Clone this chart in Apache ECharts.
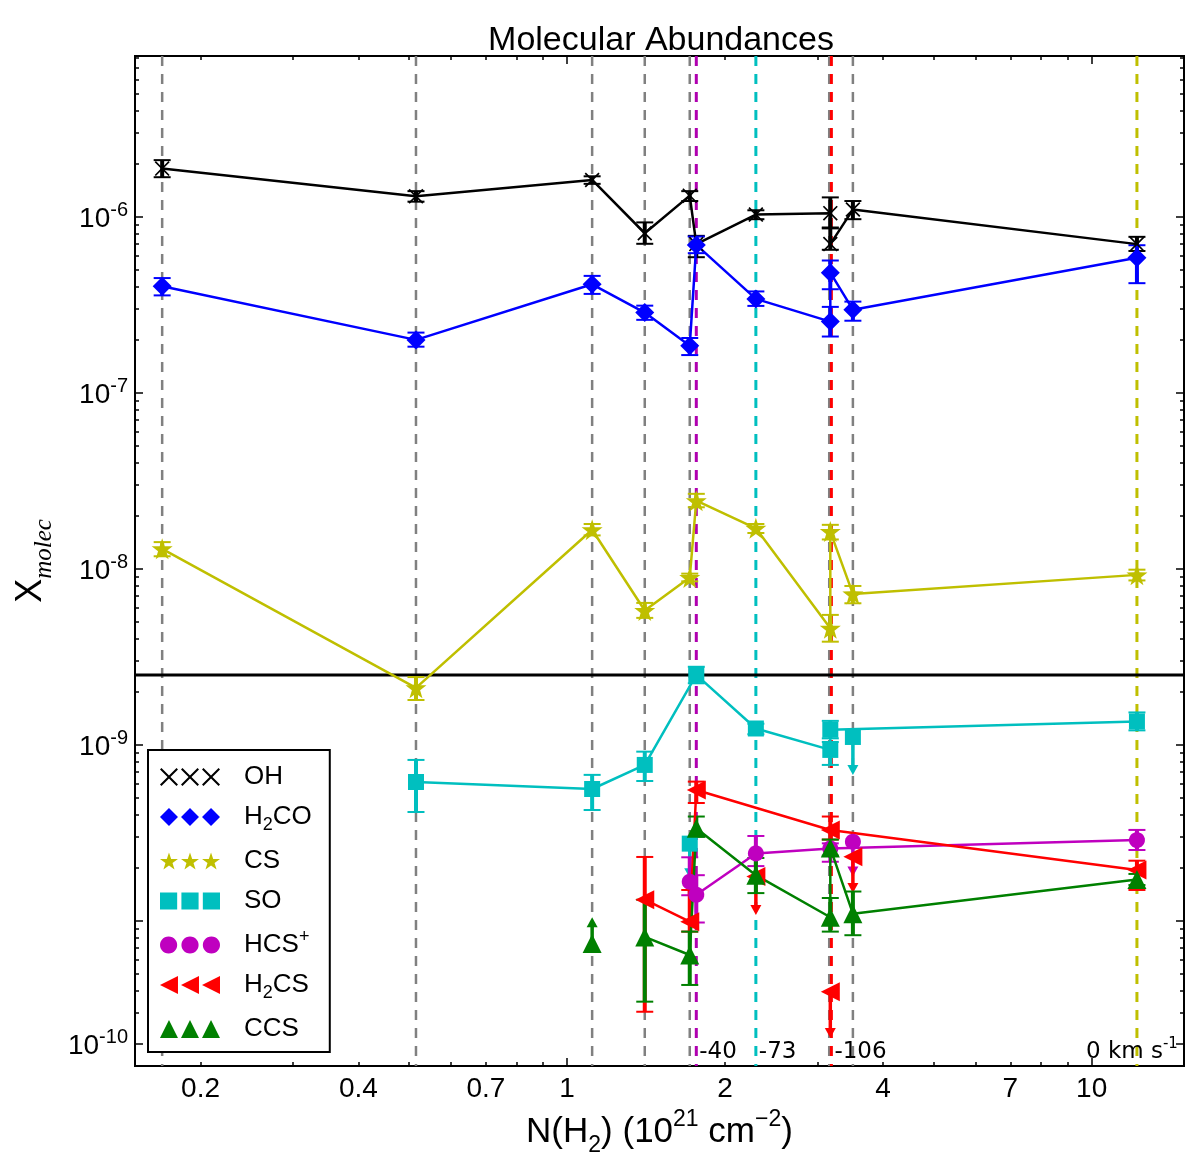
<!DOCTYPE html>
<html><head><meta charset="utf-8">
<script src="https://cdn.jsdelivr.net/npm/echarts@6/dist/echarts.min.js"></script>
<style>html,body{margin:0;padding:0;background:#fff}#c{width:1200px;height:1163px}</style>
</head><body><div id="c"></div><script>
// ---------- axes / ticks ----------
const X_MIN = 0.15, X_MAX = 15;
const Y_MIN = 1.5e-11, Y_MAX = 8.2e-6;
const xLabelVals = [0.2, 0.4, 0.7, 1, 2, 4, 7, 10];
const xLabelTexts = ['0.2', '0.4', '0.7', '1', '2', '4', '7', '10'];
const xMajorTicks = [1, 10];
const xMinorTicks = [0.2, 0.3, 0.4, 0.5, 0.6, 0.7, 0.8, 0.9, 2, 3, 4, 5, 6, 7, 8, 9];
const yLabelVals = [1e-6, 1e-7, 1e-8, 1e-9, 2e-11];
const yLabelExps = ['-6', '-7', '-8', '-9', '-10'];
const yMajorTicks = [1e-6, 1e-7, 1e-8, 1e-9, 1e-10, 2e-11];
const yMinorMantissa = [2, 3, 4, 5, 6, 7, 8, 9];
const yMinorDecades = [1e-11, 1e-10, 1e-9, 1e-8, 1e-7, 1e-6];
const thresholdY = 2.5e-9;

// ---------- data: [N(H2), X, errLow, errHigh] ----------
const OH = [
  [0.169, 1.88e-6, 1.68e-6, 2.10e-6], [0.515, 1.31e-6, 1.22e-6, 1.40e-6],
  [1.116, 1.62e-6, 1.54e-6, 1.70e-6], [1.406, 8.07e-7, 7.03e-7, 9.30e-7],
  [1.713, 1.32e-6, 1.23e-6, 1.40e-6], [1.763, 7.00e-7, 5.90e-7, 7.80e-7],
  [2.29, 1.03e-6, 0.97e-6, 1.09e-6], [3.175, 1.05e-6, 8.60e-7, 1.29e-6],
  [3.175, 7.00e-7, 6.50e-7, 8.70e-7], [3.506, 1.10e-6, 9.70e-7, 1.23e-6],
  [12.2, 7.00e-7, 6.40e-7, 7.70e-7]
];
const H2CO = [
  [0.169, 4.03e-7, 3.58e-7, 4.49e-7], [0.515, 2.00e-7, 1.83e-7, 2.20e-7],
  [1.116, 4.14e-7, 3.65e-7, 4.62e-7], [1.406, 2.86e-7, 2.60e-7, 3.13e-7],
  [1.713, 1.85e-7, 1.64e-7, 2.05e-7], [1.763, 6.93e-7, 6.22e-7, 7.73e-7],
  [2.29, 3.42e-7, 3.12e-7, 3.77e-7], [3.175, 2.54e-7, 2.09e-7, 3.08e-7],
  [3.175, 4.82e-7, 3.88e-7, 5.65e-7], [3.506, 2.97e-7, 2.57e-7, 3.30e-7],
  [12.2, 5.85e-7, 4.20e-7, 6.90e-7]
];
const CS = [
  [0.169, 1.30e-8, 1.18e-8, 1.42e-8], [0.515, 2.11e-9, 1.80e-9, 2.43e-9],
  [1.116, 1.67e-8, 1.55e-8, 1.80e-8], [1.406, 5.80e-9, 5.27e-9, 6.41e-9],
  [1.713, 8.93e-9, 8.50e-9, 9.40e-9], [1.763, 2.44e-8, 2.24e-8, 2.67e-8],
  [2.29, 1.70e-8, 1.60e-8, 1.80e-8], [3.175, 4.60e-9, 3.86e-9, 5.48e-9],
  [3.175, 1.63e-8, 1.47e-8, 1.78e-8], [3.506, 7.21e-9, 6.38e-9, 8.00e-9],
  [12.2, 9.25e-9, 8.60e-9, 9.90e-9]
];
const SO = [
  [0.515, 6.16e-10, 4.16e-10, 8.22e-10], [1.116, 5.62e-10, 4.27e-10, 6.76e-10],
  [1.406, 7.70e-10, 6.24e-10, 9.16e-10], [1.763, 2.50e-9, 2.24e-9, 2.78e-9],
  [2.29, 1.24e-9, 1.15e-9, 1.32e-9], [3.175, 9.37e-10, 7.70e-10, 1.04e-9],
  [3.175, 1.22e-9, 1.09e-9, 1.37e-9], [12.2, 1.36e-9, 1.21e-9, 1.53e-9]
];
const HCSp = [
  [1.713, 1.67e-10, 1.40e-10, 2.30e-10], [1.763, 1.41e-10, 9.80e-11, 1.82e-10],
  [2.29, 2.42e-10, 2.05e-10, 3.04e-10], [3.175, 2.58e-10, 2.17e-10, 2.76e-10],
  [12.2, 2.88e-10, 2.53e-10, 3.29e-10]
];
const H2CS = [
  [1.406, 1.32e-10, 3.05e-11, 2.31e-10], [1.713, 9.90e-11, 8.70e-11, 1.50e-10],
  [1.763, 5.55e-10, 4.68e-10, 6.19e-10], [3.175, 3.29e-10, 2.90e-10, 3.92e-10],
  [12.2, 1.95e-10, 1.50e-10, 2.20e-10]
];
const CCS = [
  [1.406, 8.12e-11, 3.48e-11, 1.32e-10], [1.713, 6.41e-11, 4.33e-11, 8.70e-11],
  [1.763, 3.36e-10, 3.01e-10, 3.92e-10], [2.29, 1.82e-10, 1.44e-10, 2.28e-10],
  [3.175, 1.05e-10, 8.70e-11, 1.35e-10], [3.175, 2.60e-10, 2.35e-10, 2.90e-10],
  [3.506, 1.10e-10, 8.30e-11, 1.47e-10], [12.2, 1.72e-10, 1.60e-10, 1.85e-10]
];
// limits: [N(H2), X, arrow end]
const OH_lim = [], H2CO_lim = [], CS_lim = [];
const SO_lim = [[1.713, 2.75e-10, 1.75e-10], [3.506, 1.11e-9, 6.76e-10]];
const HCSp_lim = [[3.506, 2.82e-10, 1.79e-10]];
const H2CS_lim = [[2.29, 1.79e-10, 1.08e-10], [3.175, 3.96e-11, 2.16e-11], [3.506, 2.32e-10, 1.44e-10]];
const CCS_lim = [[1.116, 7.44e-11, 1.05e-10]];

// velocity-component marker lines
const grayLinesX = [0.169, 0.515, 1.116, 1.406, 1.713, 3.16, 3.506];
const velLinesX = [1.763, 2.29, 3.19, 12.2];
const velLabels = ['-40', '-73', '-106', '0 km s'];
const velLabelSup = ['', '', '', '-1'];
// styles (kept separate)
const velColors = ['#b000b0', '#00bfbf', '#ff0000', '#bfbf00'];
const velAlign = ['left', 'left', 'left', 'center'];

// ---------- marker shapes ----------
function starPts() {
  const p = [];
  for (let k = 0; k < 10; k++) {
    const a = (-90 + k * 36) * Math.PI / 180, r = k % 2 ? 3.3 : 8.4;
    p.push([8 + r * Math.cos(a), 8.8 + r * Math.sin(a)]);
  }
  return p;
}
function circlePts() {
  const p = [];
  for (let k = 0; k < 28; k++) { const a = k / 28 * 2 * Math.PI; p.push([8 + 7.5 * Math.cos(a), 8 + 7.5 * Math.sin(a)]); }
  return p;
}
const shapes = {
  x: [[0, 1.3], [1.3, 0], [8, 6.7], [14.7, 0], [16, 1.3], [9.3, 8], [16, 14.7], [14.7, 16], [8, 9.3], [1.3, 16], [0, 14.7], [6.7, 8]],
  diamond: [[8, 0], [16, 8], [8, 16], [0, 8]],
  star: starPts(),
  square: [[0.5, 0.5], [15.5, 0.5], [15.5, 15.5], [0.5, 15.5]],
  circle: circlePts(),
  tleft: [[0, 8], [16, 0], [16, 16]],
  tup: [[8, 0], [16, 16], [0, 16]]
};
function poly(pts, dx) {
  return 'M' + pts.map(p => (p[0] + dx).toFixed(2) + ',' + p[1].toFixed(2)).join(' L') + ' Z';
}
const symPath = s => 'path://' + poly(shapes[s], 0);
const legendPath = s => 'path://' + [0, 18.7, 37.4].map(d => poly(shapes[s], d)).join(' ');

// ---------- species definitions ----------
const species = [
  { name: 'OH', data: OH, lim: OH_lim, color: '#000000', shape: 'x', size: 15, label: '{t|OH}' },
  { name: 'H2CO', data: H2CO, lim: H2CO_lim, color: '#0000ff', shape: 'diamond', size: 19, label: '{t|H}{sub|2}{t|CO}' },
  { name: 'CS', data: CS, lim: CS_lim, color: '#bfbf00', shape: 'star', size: 21, label: '{t|CS}' },
  { name: 'SO', data: SO, lim: SO_lim, color: '#00bfbf', shape: 'square', size: 16, label: '{t|SO}' },
  { name: 'HCS+', data: HCSp, lim: HCSp_lim, color: '#bf00bf', shape: 'circle', size: 16, label: '{t|HCS}{sup|+}' },
  { name: 'H2CS', data: H2CS, lim: H2CS_lim, color: '#ff0000', shape: 'tleft', size: 19, label: '{t|H}{sub|2}{t|CS}' },
  { name: 'CCS', data: CCS, lim: CCS_lim, color: '#008000', shape: 'tup', size: 19, label: '{t|CCS}' }
];

function errRender(color) {
  return function (params, api) {
    const x = api.value(0);
    const a = api.coord([x, api.value(2)]), b = api.coord([x, api.value(3)]);
    const cw = 8.5;
    return { type: 'group', children: [
      { type: 'line', shape: { x1: a[0], y1: a[1], x2: b[0], y2: b[1] }, style: { stroke: color, lineWidth: 4 } },
      { type: 'line', shape: { x1: a[0] - cw, y1: a[1], x2: a[0] + cw, y2: a[1] }, style: { stroke: color, lineWidth: 2 } },
      { type: 'line', shape: { x1: b[0] - cw, y1: b[1], x2: b[0] + cw, y2: b[1] }, style: { stroke: color, lineWidth: 2 } }
    ] };
  };
}
function limRender(color) {
  return function (params, api) {
    const x = api.value(0);
    const a = api.coord([x, api.value(1)]), b = api.coord([x, api.value(2)]);
    const dir = b[1] > a[1] ? 1 : -1, h = 10, w = 5.5;
    return { type: 'group', children: [
      { type: 'line', shape: { x1: a[0], y1: a[1], x2: b[0], y2: b[1] - dir * h * 0.6 }, style: { stroke: color, lineWidth: 3.5 } },
      { type: 'polygon', shape: { points: [[b[0], b[1]], [b[0] - w, b[1] - dir * h], [b[0] + w, b[1] - dir * h]] }, style: { fill: color } }
    ] };
  };
}

const series = [];
// vertical dashed lines
const vlineItems = grayLinesX.map(x => [x, Y_MIN, Y_MAX, -1]).concat(velLinesX.map((x, i) => [x, Y_MIN, Y_MAX, i]));
series.push({
  type: 'custom', name: 'vlines', z: 1, silent: true, data: vlineItems,
  renderItem: function (params, api) {
    const x = api.value(0), idx = api.value(3);
    const top = api.coord([x, api.value(2)]), bot = api.coord([x, api.value(1)]);
    const color = idx < 0 ? '#808080' : velColors[idx];
    const children = [{ type: 'line', shape: { x1: top[0], y1: top[1], x2: bot[0], y2: bot[1] },
      style: { stroke: color, lineWidth: idx < 0 ? 2.5 : 3, lineDash: [10, 8] } }];
    if (idx >= 0) {
      const al = velAlign[idx];
      children.push({ type: 'text', x: bot[0] + (al === 'left' ? 3 : -5), y: bot[1] - 16, z2: 10,
        style: { text: '{a|' + velLabels[idx] + '}' + (velLabelSup[idx] ? '{b|' + velLabelSup[idx] + '}' : ''),
          rich: { a: { fontSize: 23, fontFamily: 'DejaVu Sans', fill: '#000', padding: [4, 0, 0, 0] },
                  b: { fontSize: 15, fontFamily: 'DejaVu Sans', fill: '#000', verticalAlign: 'top' } },
          align: al, verticalAlign: 'middle', fill: '#000' } });
    }
    return { type: 'group', children };
  }
});
// horizontal separator line
series.push({
  type: 'line', name: 'threshold', data: [[X_MIN, thresholdY], [X_MAX, thresholdY]], symbol: 'none', silent: true,
  lineStyle: { color: '#000', width: 3 }, z: 2, emphasis: { disabled: true }
});

species.forEach(sp => {
  series.push({
    type: 'line', name: sp.name, data: sp.data.map(p => [p[0], p[1]]),
    symbol: symPath(sp.shape), symbolSize: sp.size, showSymbol: true,
    itemStyle: { color: sp.color, borderWidth: 0, opacity: 1 }, lineStyle: { color: sp.color, width: 2.5 },
    emphasis: { disabled: true }, z: 3
  });
  series.push({ type: 'custom', name: sp.name + '_err', data: sp.data, renderItem: errRender(sp.color), z: 3, silent: true });
  if (sp.lim.length) {
    series.push({ type: 'scatter', name: sp.name + '_lim', data: sp.lim.map(p => [p[0], p[1]]),
      symbol: symPath(sp.shape), symbolSize: sp.size, itemStyle: { color: sp.color, opacity: 1 }, z: 3, emphasis: { disabled: true } });
    series.push({ type: 'custom', name: sp.name + '_arrow', data: sp.lim, renderItem: limRender(sp.color), z: 3, silent: true });
  }
});

function near(a, b) { return Math.abs(a - b) / Math.abs(b) < 1e-6; }
const yMinorTicks = [];
yMinorDecades.forEach(d => yMinorMantissa.forEach(m => yMinorTicks.push(m * d)));

const FONT = 'Liberation Sans';
function xAxisDef(pos, major, labels) {
  return {
    type: 'log', logBase: 10, min: X_MIN, max: X_MAX, position: pos, gridIndex: 0,
    axisLine: { show: true, onZero: false, lineStyle: { color: '#000', width: 2 } },
    axisTick: { show: true, inside: true, length: major ? 8 : 4, customValues: major ? xMajorTicks : xMinorTicks,
      lineStyle: { color: '#000', width: 1.5 } },
    axisLabel: labels ? { show: true, customValues: xLabelVals, margin: 9, color: '#000', fontSize: 28, fontFamily: FONT,
      formatter: v => { const i = xLabelVals.findIndex(t => near(v, t)); return i >= 0 ? xLabelTexts[i] : ''; } } : { show: false },
    splitLine: { show: false }, minorTick: { show: false }, minorSplitLine: { show: false }
  };
}
function yAxisDef(pos, major, labels) {
  return {
    type: 'log', logBase: 10, min: Y_MIN, max: Y_MAX, position: pos, gridIndex: 0,
    axisLine: { show: true, onZero: false, lineStyle: { color: '#000', width: 2 } },
    axisTick: { show: true, inside: true, length: major ? 8 : 4, customValues: major ? yMajorTicks : yMinorTicks,
      lineStyle: { color: '#000', width: 1.5 } },
    axisLabel: labels ? { show: true, customValues: yLabelVals, margin: 7, color: '#000', fontFamily: FONT,
      formatter: v => { const i = yLabelVals.findIndex(t => near(v, t)); return i >= 0 ? '{b|10}{s|' + yLabelExps[i] + '}' : ''; },
      rich: { b: { fontSize: 28, fontFamily: FONT, color: '#000', padding: [5, 0, 0, 0] },
              s: { fontSize: 20, fontFamily: FONT, color: '#000', verticalAlign: 'top' } } } : { show: false },
    splitLine: { show: false }, minorTick: { show: false }, minorSplitLine: { show: false }
  };
}
const xAxes = [xAxisDef('bottom', true, true), xAxisDef('bottom', false, false), xAxisDef('top', true, false), xAxisDef('top', false, false)];
Object.assign(xAxes[0], {
  name: '{t|N(H}{sub|2}{t|) (10}{sup|21}{t| cm}{sup|−2}{t|)}', nameLocation: 'middle', nameGap: 39,
  nameTextStyle: { rich: {
    t: { fontSize: 35, fontFamily: FONT, color: '#000', padding: [7, 0, 7, 0] },
    sub: { fontSize: 23, fontFamily: FONT, color: '#000', verticalAlign: 'bottom' },
    sup: { fontSize: 23, fontFamily: FONT, color: '#000', verticalAlign: 'top' } } }
});
const yAxes = [yAxisDef('left', true, true), yAxisDef('left', false, false), yAxisDef('right', true, false), yAxisDef('right', false, false)];
Object.assign(yAxes[0], {
  name: '{x|X}{m|molec}', nameLocation: 'middle', nameGap: 78, nameRotate: 90,
  nameTextStyle: { rich: {
    x: { fontSize: 36, fontFamily: FONT, color: '#000', padding: [0, 0, 8, 0] },
    m: { fontSize: 25, fontFamily: 'Liberation Serif', fontStyle: 'italic', color: '#000', verticalAlign: 'bottom' } } }
});

const chart = echarts.init(document.getElementById('c'), null, { renderer: 'canvas' });
chart.setOption({
  animation: false,
  backgroundColor: '#fff',
  title: { text: 'Molecular Abundances', left: 656, top: 19, textAlign: 'center',
    textStyle: { fontSize: 34, fontWeight: 'normal', fontFamily: FONT, color: '#000' } },
  grid: { left: 135, right: 16, top: 56, bottom: 97, containLabel: false, outerBoundsMode: 'none' },
  xAxis: xAxes,
  yAxis: yAxes,
  legend: {
    orient: 'vertical', left: 148, top: 750, padding: [14, 18, 10, 12], itemGap: 14,
    itemWidth: 60, itemHeight: 18, backgroundColor: '#fff', borderColor: '#000', borderWidth: 2, borderRadius: 0,
    selectedMode: false,
    data: species.map(sp => ({ name: sp.name, icon: legendPath(sp.shape), itemStyle: { color: sp.color, borderWidth: 0 } })),
    formatter: n => '{sp| }' + species.find(s => s.name === n).label,
    textStyle: { color: '#000', fontFamily: FONT, fontSize: 26, rich: {
      sp: { width: 19, fontSize: 26 },
      t: { fontSize: 26, fontFamily: FONT, color: '#000', padding: [4, 0, 4, 0] },
      sub: { fontSize: 18, fontFamily: FONT, color: '#000', verticalAlign: 'bottom' },
      sup: { fontSize: 18, fontFamily: FONT, color: '#000', verticalAlign: 'top' } } }
  },
  series: series
});
</script></body></html>
